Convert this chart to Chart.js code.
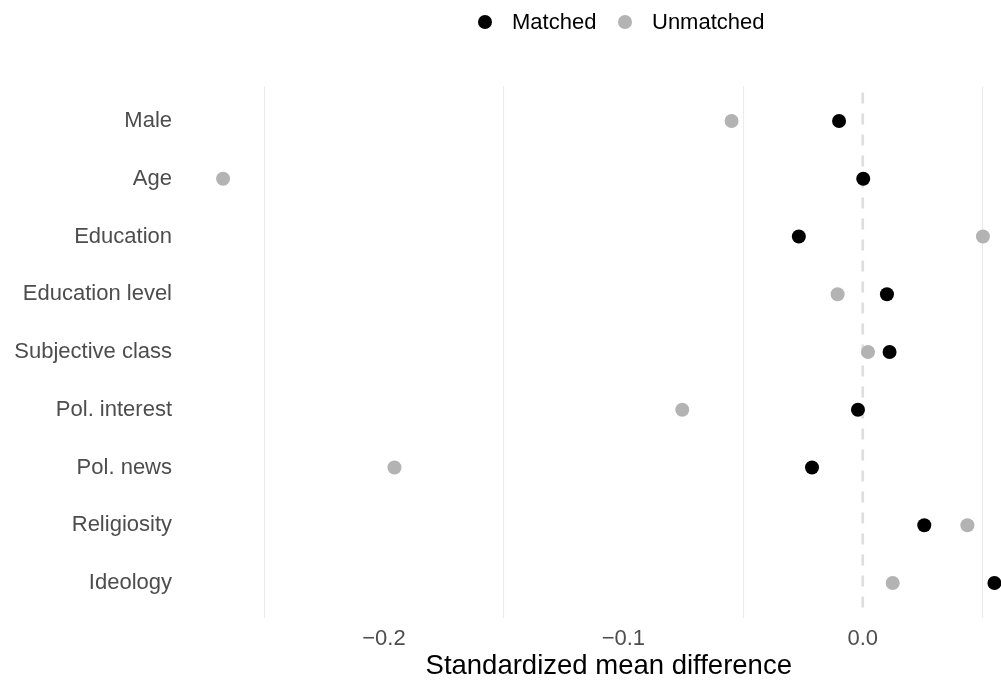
<!DOCTYPE html>
<html>
<head>
<meta charset="utf-8">
<script src="https://cdn.jsdelivr.net/npm/chart.js@4"></script>
<style>
  html, body { margin: 0; padding: 0; background: #ffffff; overflow: hidden; }
  #wrap { width: 1001px; height: 683px; overflow: hidden; position: relative; }
  #smd { position: absolute; left: 0; top: 0; }
</style>
</head>
<body>
<div id="wrap"><canvas id="smd" width="1033" height="683"></canvas></div>
<script>
// Covariates, top to bottom
const covariates = ['Male', 'Age', 'Education', 'Education level', 'Subjective class',
                    'Pol. interest', 'Pol. news', 'Religiosity', 'Ideology'];

// Standardized mean differences per covariate
const matched   = [-0.0099, 0.0002, -0.0267, 0.0101, 0.0112, -0.0020, -0.0212, 0.0257, 0.0550];
const unmatched = [-0.0548, -0.2672, 0.0502, -0.0105, 0.0022, -0.0754, -0.1956, 0.0437, 0.0125];

// x-axis: labelled ticks and the light grid positions between them
const xLabelTicks = [-0.2, -0.1, 0.0];
const xGridTicks  = [-0.25, -0.15, -0.05, 0.05];

const seriesNames  = ['Matched', 'Unmatched'];
const seriesColors = ['#000000', '#b3b3b3'];

const FONT = "'Liberation Sans', Arial, Helvetica, sans-serif";

function toPoints(vals) {
  return vals.map((v, i) => ({ x: v, y: i + 1 }));
}

function fmtTick(v) {
  const s = Math.abs(v).toFixed(1);
  return v < -1e-9 ? '\u2212' + s : s;
}

// x range padded by 5% of the data span on each side
const allVals = matched.concat(unmatched);
const dataMin = Math.min(...allVals);
const dataMax = Math.max(...allVals);
const span = dataMax - dataMin;
const xMin = dataMin - 0.05 * span;
const xMax = dataMax + 0.05 * span;

// dashed reference line at zero
const zeroLine = {
  id: 'zeroLine',
  beforeDatasetsDraw(chart) {
    const { ctx, chartArea, scales } = chart;
    const x = scales.x.getPixelForValue(0);
    ctx.save();
    ctx.strokeStyle = '#dedede';
    ctx.lineWidth = 2.7;
    ctx.setLineDash([11, 10]);
    ctx.lineDashOffset = -6;
    ctx.beginPath();
    ctx.moveTo(x, chartArea.top);
    ctx.lineTo(x, chartArea.bottom);
    ctx.stroke();
    ctx.restore();
  }
};

// legend row above the panel
const topLegend = {
  id: 'topLegend',
  afterDraw(chart) {
    const { ctx } = chart;
    const items = [
      { dot: 485, text: 512 },
      { dot: 625, text: 652 }
    ];
    ctx.save();
    ctx.font = '22px ' + FONT;
    ctx.textBaseline = 'middle';
    ctx.textAlign = 'left';
    items.forEach((it, i) => {
      ctx.fillStyle = seriesColors[i];
      ctx.beginPath();
      ctx.arc(it.dot, 22, 7, 0, Math.PI * 2);
      ctx.fill();
      ctx.fillStyle = '#000000';
      ctx.fillText(seriesNames[i], it.text, 23);
    });
    ctx.restore();
  }
};

new Chart(document.getElementById('smd'), {
  type: 'scatter',
  data: {
    datasets: [
      {
        label: seriesNames[1],
        data: toPoints(unmatched),
        backgroundColor: seriesColors[1],
        borderWidth: 0,
        pointRadius: 7,
        pointHoverRadius: 7
      },
      {
        label: seriesNames[0],
        data: toPoints(matched),
        backgroundColor: seriesColors[0],
        borderWidth: 0,
        pointRadius: 7,
        pointHoverRadius: 7
      }
    ]
  },
  options: {
    responsive: false,
    animation: false,
    devicePixelRatio: 1,
    layout: { autoPadding: false, padding: { top: 86.4, right: 0, bottom: 0, left: 0 } },
    plugins: {
      legend: { display: false },
      tooltip: { enabled: false },
      title: { display: false }
    },
    scales: {
      x: {
        type: 'linear',
        min: xMin,
        max: xMax,
        afterBuildTicks(scale) {
          scale.ticks = xLabelTicks.concat(xGridTicks)
            .sort((a, b) => a - b)
            .map(v => ({ value: v }));
        },
        afterFit(scale) {
          scale.height = 65.4;
          scale.paddingLeft = 0;
          scale.paddingRight = 0;
        },
        ticks: {
          autoSkip: false,
          maxRotation: 0,
          padding: 8,
          color: '#4d4d4d',
          font: { family: FONT, size: 22 },
          callback(v) {
            return xLabelTicks.some(t => Math.abs(t - v) < 1e-9) ? fmtTick(v) : '';
          }
        },
        grid: {
          drawTicks: false,
          lineWidth: 1.1,
          color(ctx) {
            const v = ctx.tick ? ctx.tick.value : null;
            return xGridTicks.some(t => Math.abs(t - v) < 1e-9) ? '#ebebeb' : 'rgba(0,0,0,0)';
          }
        },
        border: { display: false },
        title: {
          display: true,
          text: 'Standardized mean difference',
          color: '#000000',
          font: { family: FONT, size: 27.5 },
          padding: { top: 0, bottom: 0 }
        }
      },
      y: {
        type: 'linear',
        reverse: true,
        min: 0.4,
        max: 9.6,
        afterBuildTicks(scale) {
          scale.ticks = covariates.map((_, i) => ({ value: i + 1 }));
        },
        afterFit(scale) { scale.width = 184.5; },
        ticks: {
          autoSkip: false,
          padding: 12.5,
          color: '#4d4d4d',
          font: { family: FONT, size: 22 },
          callback(v) { return covariates[Math.round(v) - 1] || ''; }
        },
        grid: { display: false, drawTicks: false },
        border: { display: false }
      }
    }
  },
  plugins: [zeroLine, topLegend]
});
</script>
</body>
</html>
